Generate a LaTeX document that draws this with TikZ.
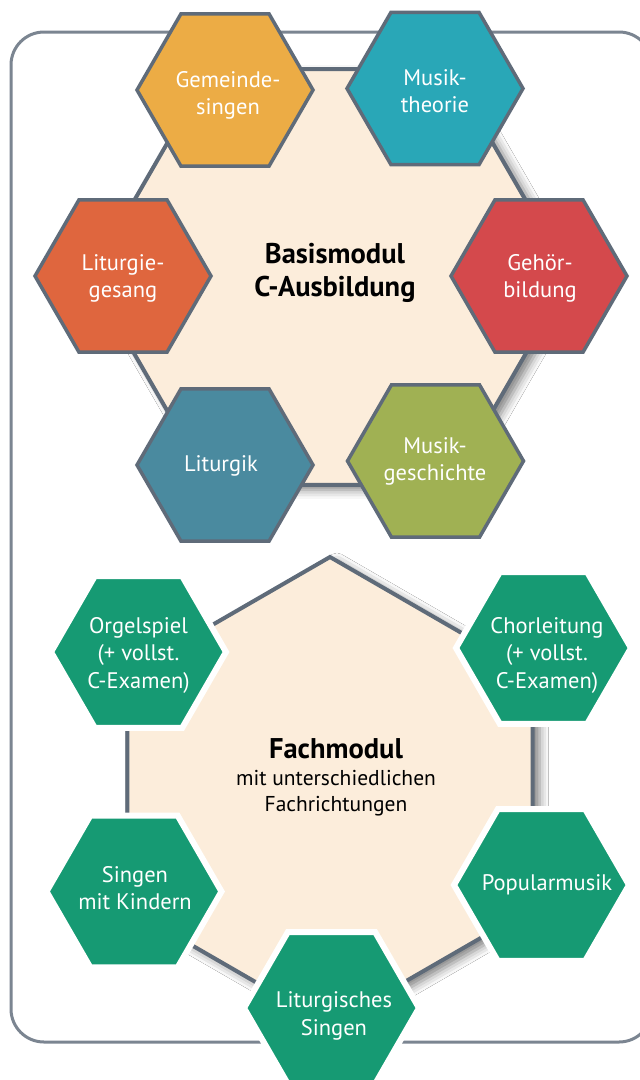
\documentclass[tikz,border=0pt]{standalone}
\usepackage{fontspec}
\setmainfont{PT Sans}
\usetikzlibrary{shapes.geometric,shadows.blur}
\definecolor{hexgray}{HTML}{5F6B79}
\definecolor{rectgray}{HTML}{7B8591}
\definecolor{beige}{HTML}{FCEDDB}
\definecolor{cGem}{HTML}{ECAC45}
\definecolor{cMth}{HTML}{29A7B7}
\definecolor{cLgs}{HTML}{DF663E}
\definecolor{cGeh}{HTML}{D4494C}
\definecolor{cLtk}{HTML}{4A8A9F}
\definecolor{cMge}{HTML}{A0B153}
\definecolor{cGrn}{HTML}{169A73}
\begin{document}
\begin{tikzpicture}[x=1pt,y=-1pt,
  hexbase/.style={regular polygon, regular polygon sides=6, inner sep=0pt},
  bighex/.style={hexbase, fill=beige, draw=hexgray, line width=4pt,
    blur shadow={shadow xshift=7pt, shadow yshift=-5pt, shadow blur radius=9pt, shadow opacity=50}},
  modhex/.style={hexbase, minimum size=176pt, draw=hexgray, line width=3.5pt},
  fachhex/.style={hexbase, minimum size=175pt, fill=cGrn, draw=white, line width=6pt},
  modtext/.style={align=center, text=white, inner sep=0pt, font=\fontsize{22.5}{27}\selectfont},
  fachtext/.style={align=center, text=white, inner sep=0pt, font=\fontsize{22.5}{27.5}\selectfont},
  bigtitle/.style={align=center, text=black, font=\fontsize{28.5}{33}\selectfont\bfseries},
  subtitle/.style={align=center, text=black, font=\fontsize{21.5}{26}\selectfont},
]
\clip (0,0) rectangle (640,1080);
\fill[white] (0,0) rectangle (640,1080);
% outer frame
\draw[rectgray, line width=3pt, rounded corners=33pt] (11,32) rectangle (652,1042);

% Basismodul
\node[bighex, minimum size=480pt] (basis) at (330,277) {};
\node[modhex, fill=cGem] (gem) at (225,90) {};
\node[modhex, fill=cMth] (mth) at (435,88.5) {};
\node[modhex, fill=cLgs] (lgs) at (123,276) {};
\node[modhex, fill=cGeh] (geh) at (539,276) {};
\node[modhex, fill=cLtk] (ltk) at (225,465) {};
\node[modhex, fill=cMge] (mge) at (435.5,461) {};
\node[modtext] (gemT) at (228,95) {Gemeinde-\\singen};
\node[modtext] (mthT) at (435,91) {Musik-\\theorie};
\node[modtext] (lgsT) at (123,278) {Liturgie-\\gesang};
\node[modtext] (gehT) at (540,278) {Gehör-\\bildung};
\node[modtext] (ltkT) at (221,466) {Liturgik};
\node[modtext] (mgeT) at (435,461) {Musik-\\geschichte};
\node[bigtitle] (basisT) at (335,273) {Basismodul\\C-Ausbildung};

% Fachmodul
\node[bighex, minimum size=468pt, shape border rotate=30] (fach) at (330,791) {};
\node[fachhex] (org) at (138.5,652) {};
\node[fachhex] (chor) at (543.5,648) {};
\node[fachhex] (sing) at (134,891.5) {};
\node[fachhex] (pop) at (541.5,885) {};
\node[fachhex] (lits) at (331.5,1008) {};
\node[fachtext] (orgT) at (138.5,655) {Orgelspiel\\(+ vollst.\\C-Examen)};
\node[fachtext] (chorT) at (547,655) {Chorleitung\\(+ vollst.\\C-Examen)};
\node[fachtext] (singT) at (135,888) {Singen\\mit Kindern};
\node[fachtext] (popT) at (547,885) {Popularmusik};
\node[fachtext] (litsT) at (334,1016) {Liturgisches\\Singen};
\node[bigtitle] (fachT) at (336,749) {Fachmodul};
\node[subtitle] (fachS) at (336,793) {mit unterschiedlichen\\Fachrichtungen};
\end{tikzpicture}
\end{document}
